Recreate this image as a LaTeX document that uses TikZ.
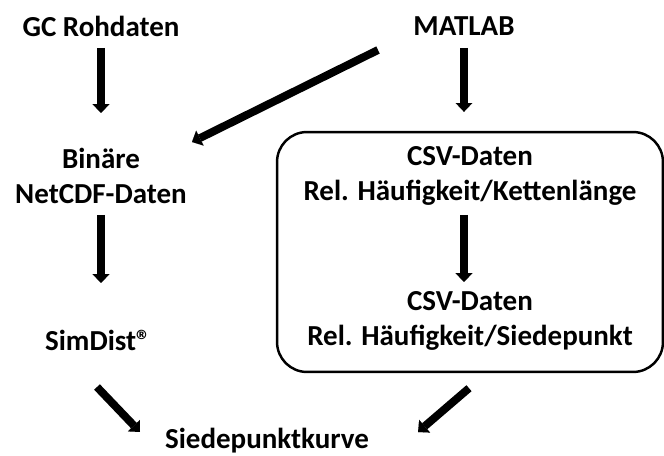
\documentclass[tikz,border=0pt]{standalone}
\usepackage{fontspec}
\setmainfont{Carlito}
\usetikzlibrary{arrows.meta}

\begin{document}
\begin{tikzpicture}[x=0.02cm,y=-0.02cm]

    \tikzset{txt/.style = {font=\bfseries\fontsize{16.5}{20.4}\selectfont, inner sep=0, align=center}}
    \tikzset{csvframe/.style = {draw, line width=1.4pt, rounded corners=0.6cm, minimum width=7.72cm, minimum height=4.8cm}}
    \tikzset{flow/.style = {-{Triangle[length=5pt,width=9.5pt,line width=0.01pt]}, line width=4.5pt}}

    \useasboundingbox (0,0) rectangle (664,456);

    \node[csvframe] (box) at (470,252) {};

    \node[txt] (gc) at (101,26) {GC Rohdaten};
    \node[txt] (matlab) at (464,26) {MATLAB};
    \node[txt] (binaer) at (101,176) {Binäre\\NetCDF-Daten};
    \node[txt] (simdist) at (98,340) {SimDist®};
    \node[txt] (kette) at (470,176) {CSV-Daten\\Rel. Häufigkeit/Kettenlänge};
    \node[txt] (siede) at (470,321) {CSV-Daten\\Rel. Häufigkeit/Siedepunkt};
    \node[txt] (kurve) at (267,441) {Siedepunktkurve};

    \draw[flow] ([shift={(0,22)}]gc.center) -- ([shift={(0,-63)}]binaer.center);
    \draw[flow] ([shift={(0,22)}]matlab.center) -- ([shift={(-6,-19)}]box.north);
    \draw[flow] ([shift={(-86,24)}]matlab.center) -- ([shift={(91,-34)}]binaer.center);
    \draw[flow] ([shift={(0,39)}]binaer.center) -- ([shift={(3,-57)}]simdist.center);
    \draw[flow] ([shift={(-6,39)}]kette.center) -- ([shift={(-6,-39)}]siede.center);
    \draw[flow] ([shift={(-1,47)}]simdist.center) -- ([shift={(-127,-9)}]kurve.center);
    \draw[flow] ([shift={(-1,15)}]box.south) -- ([shift={(151,-9)}]kurve.center);

\end{tikzpicture}
\end{document}
